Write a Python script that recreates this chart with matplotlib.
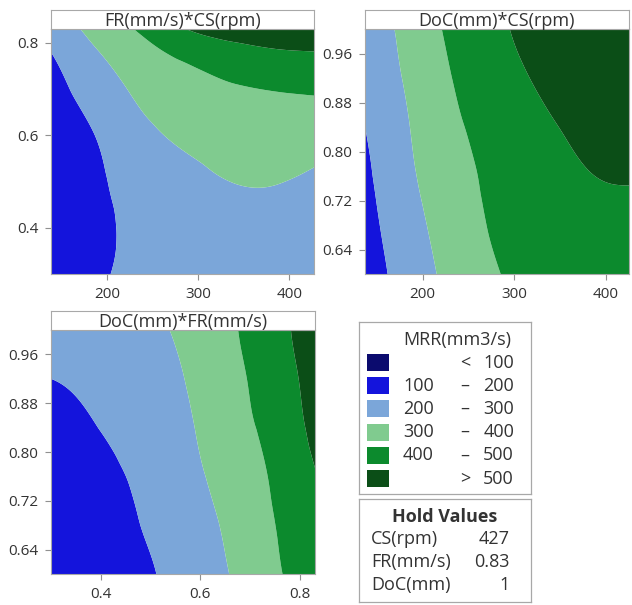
import numpy as np
import matplotlib
matplotlib.use("Agg")
import matplotlib.pyplot as plt
import matplotlib.tri as mtri
from matplotlib.patches import Rectangle

plt.rcParams['font.family'] = ['Open Sans', 'DejaVu Sans']

# ---------------- data (MRR estimates) ----------------
levels = [0, 100, 200, 300, 400, 500, 10000]
level_colors = ['#0b0b6e', '#1414dc', '#7ba6d9', '#80cb8f', '#0c8a2d', '#0b4e17']
legend_low = ['', '100', '200', '300', '400', '']
legend_sep = ['<', '–', '–', '–', '–', '>']
legend_high = ['100', '200', '300', '400', '500', '500']

# Panel 1: FR (y) vs CS (x), DoC held
p1_cs = [138, 190, 240, 290, 340, 390, 427]
p1_fr = [0.30, 0.40, 0.50, 0.60, 0.70, 0.78, 0.83]
p1_mrr = [
    [145, 190, 222, 238, 245, 242, 235],
    [130, 183, 222, 248, 262, 264, 255],
    [135, 190, 235, 275, 302, 302, 285],
    [150, 205, 275, 320, 342, 350, 340],
    [170, 250, 325, 365, 392, 405, 412],
    [200, 298, 370, 430, 470, 492, 498],
    [245, 335, 420, 505, 545, 565, 565],
]

# Panel 2: DoC (y) vs CS (x), FR held
p2_cs = [137, 185, 235, 285, 335, 385, 425]
p2_doc = [0.60, 0.68, 0.76, 0.84, 0.92, 1.00]
p2_mrr = [
    [150, 245, 333, 400, 440, 462, 470],
    [165, 265, 350, 418, 455, 475, 482],
    [180, 285, 365, 430, 470, 499, 505],
    [200, 298, 385, 445, 490, 520, 530],
    [222, 315, 405, 470, 515, 543, 550],
    [245, 330, 425, 490, 535, 560, 565],
]

# Panel 3: DoC (y) vs FR (x), CS held
p3_fr = [0.30, 0.40, 0.50, 0.60, 0.70, 0.78, 0.83]
p3_doc = [0.60, 0.68, 0.76, 0.84, 0.92, 1.00]
p3_mrr = [
    [150, 160, 195, 250, 340, 415, 470],
    [165, 178, 208, 268, 355, 428, 482],
    [180, 188, 222, 292, 370, 442, 495],
    [190, 201, 238, 310, 392, 460, 530],
    [200, 215, 255, 325, 405, 478, 548],
    [232, 245, 280, 340, 420, 498, 565],
]

titles = ['FR(mm/s)*CS(rpm)', 'DoC(mm)*CS(rpm)', 'DoC(mm)*FR(mm/s)']
legend_title = 'MRR(mm3/s)'
hold_names = ['CS(rpm)', 'FR(mm/s)', 'DoC(mm)']
hold_vals = ['427', '0.83', '1']

# ---------------- drawing ----------------
W, H = 632, 605
fig = plt.figure(figsize=(W / 100, H / 100), dpi=100)

def frac(x0, y0, x1, y1):
    return [x0 / W, 1 - y1 / H, (x1 - x0) / W, (y1 - y0) / H]

SPINE = '#a8a8a8'
TXT = '#333333'

def panel(rect, trect, xs, ys, zz, title, xticks, xtl, yticks, ytl):
    ax = fig.add_axes(frac(*rect))
    X, Y = np.meshgrid(np.array(xs, float), np.array(ys, float))
    xmin, xmax = min(xs), max(xs)
    ymin, ymax = min(ys), max(ys)
    xn = (X.ravel() - xmin) / (xmax - xmin)
    yn = (Y.ravel() - ymin) / (ymax - ymin)
    tri = mtri.Triangulation(xn, yn)
    refiner = mtri.UniformTriRefiner(tri)
    tri_f, z_f = refiner.refine_field(np.array(zz, float).ravel(), subdiv=5)
    xf = tri_f.x * (xmax - xmin) + xmin
    yf = tri_f.y * (ymax - ymin) + ymin
    tri_r = mtri.Triangulation(xf, yf, tri_f.triangles)
    ax.tricontourf(tri_r, z_f, levels=levels, colors=level_colors, antialiased=True)
    ax.set_xlim(xmin, xmax)
    ax.set_ylim(ymin, ymax)
    ax.set_xticks(xticks)
    ax.set_xticklabels(xtl)
    ax.set_yticks(yticks)
    ax.set_yticklabels(ytl)
    ax.tick_params(axis='both', direction='out', length=4, width=0.8, color='#909090',
                   labelsize=11, labelcolor=TXT, pad=5)
    for s in ax.spines.values():
        s.set_color(SPINE)
        s.set_linewidth(0.8)
    tax = fig.add_axes(frac(*trect))
    tax.set_xticks([])
    tax.set_yticks([])
    for s in tax.spines.values():
        s.set_color(SPINE)
        s.set_linewidth(0.8)
    tax.text(0.5, 0.42, title, ha='center', va='center', fontsize=13, color=TXT,
             transform=tax.transAxes)
    return ax

panel((51, 29, 314, 274), (51, 10, 314, 29), p1_cs, p1_fr, p1_mrr, titles[0],
      [200, 300, 400], ['200', '300', '400'], [0.4, 0.6, 0.8], ['0.4', '0.6', '0.8'])
panel((365, 29, 629, 274), (365, 10, 629, 29), p2_cs, p2_doc, p2_mrr, titles[1],
      [200, 300, 400], ['200', '300', '400'],
      [0.64, 0.72, 0.80, 0.88, 0.96], ['0.64', '0.72', '0.80', '0.88', '0.96'])
panel((51, 330, 315, 574), (51, 311, 315, 330), p3_fr, p3_doc, p3_mrr, titles[2],
      [0.4, 0.6, 0.8], ['0.4', '0.6', '0.8'],
      [0.64, 0.72, 0.80, 0.88, 0.96], ['0.64', '0.72', '0.80', '0.88', '0.96'])

# legend box
lax = fig.add_axes(frac(359, 322, 531, 494))
lax.set_xlim(359, 531)
lax.set_ylim(494, 322)
lax.set_xticks([])
lax.set_yticks([])
for s in lax.spines.values():
    s.set_color(SPINE)
    s.set_linewidth(0.9)
lax.text(457, 340, legend_title, ha='center', va='center', fontsize=13, color=TXT)
for i, c in enumerate(level_colors):
    yc = 362.5 + i * 23.2
    lax.add_patch(Rectangle((367, yc - 8.5), 22, 17, facecolor=c, edgecolor='none'))
    if legend_low[i]:
        lax.text(403, yc, legend_low[i], ha='left', va='center', fontsize=13, color=TXT)
    lax.text(465, yc, legend_sep[i], ha='center', va='center', fontsize=13, color=TXT)
    lax.text(514, yc, legend_high[i], ha='right', va='center', fontsize=13, color=TXT)

# hold values box
hax = fig.add_axes(frac(359, 499, 531, 602))
hax.set_xlim(359, 531)
hax.set_ylim(602, 499)
hax.set_xticks([])
hax.set_yticks([])
for s in hax.spines.values():
    s.set_color(SPINE)
    s.set_linewidth(0.9)
hax.text(445, 517, 'Hold Values', ha='center', va='center', fontsize=13,
         fontweight='bold', color=TXT)
for i, (n, v) in enumerate(zip(hold_names, hold_vals)):
    yc = 539 + i * 23
    hax.text(371, yc, n, ha='left', va='center', fontsize=13, color=TXT)
    hax.text(510, yc, v, ha='right', va='center', fontsize=13, color=TXT)

fig.savefig('out.png', dpi=100, facecolor='white')
